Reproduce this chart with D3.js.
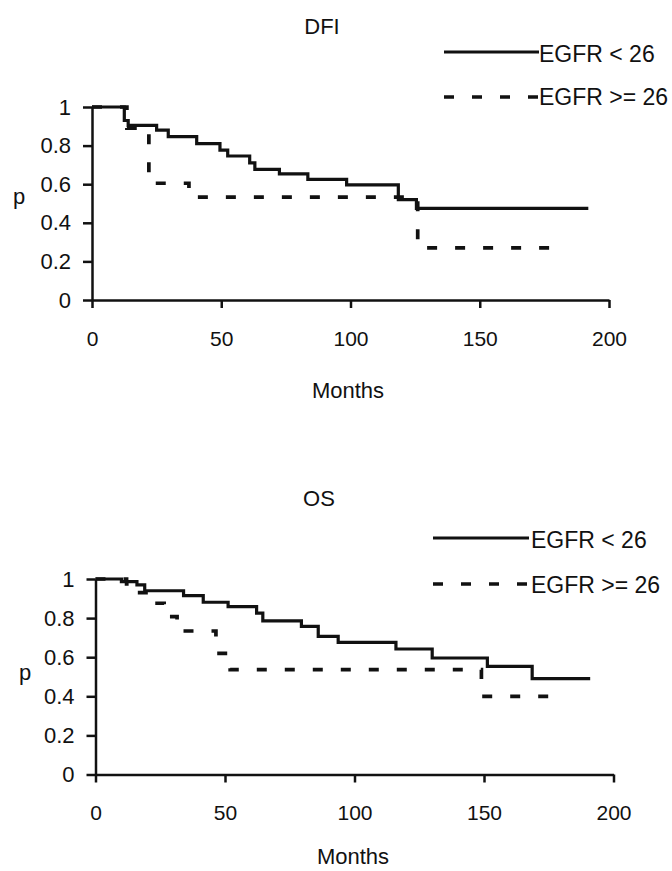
<!DOCTYPE html>
<html>
<head>
<meta charset="utf-8">
<script src="https://cdn.jsdelivr.net/npm/d3@7"></script>
<style>
  body { margin: 0; background: #fff; }
  text { font-family: "Liberation Sans", Arial, sans-serif; fill: #111; }
</style>
</head>
<body>
<div id="figure"></div>
<script>
const fig_width = 672,
      fig_height = 871,
      line_width = 3.2,
      dash_pattern = '10,18',
      tick_font = '21px',
      p_tick_font = '22px',
      label_font = '22px',
      legend_font = '23px'

const p_ticks = [0, 0.2, 0.4, 0.6, 0.8, 1]
const month_ticks = [0, 50, 100, 150, 200]
const series_names = ['EGFR < 26', 'EGFR >= 26']

// DFI, EGFR < 26 : months of each drop, survival after it, last follow-up
const dfi_low_months = [0, 12.5, 14, 25, 29.5, 40.5, 49.5, 52.5, 61, 63, 72.5, 83.5, 98.5, 118.5, 125.5]
const dfi_low_surv   = [1, 0.93, 0.905, 0.88, 0.846, 0.81, 0.777, 0.746, 0.71, 0.677, 0.653, 0.625, 0.596, 0.52, 0.475]
const dfi_low_end = 192

// DFI, EGFR >= 26
const dfi_high_months = [0, 13.5, 22, 37.5, 126]
const dfi_high_surv   = [1, 0.89, 0.605, 0.533, 0.27]
const dfi_high_end = 180

// OS, EGFR < 26
const os_low_months = [0, 10, 16, 19, 34, 41.6, 51.2, 62.2, 64.6, 79.5, 86, 93.7, 116, 130, 151.3, 168.6]
const os_low_surv   = [1, 0.987, 0.97, 0.94, 0.915, 0.881, 0.859, 0.825, 0.786, 0.758, 0.707, 0.676, 0.642, 0.596, 0.553, 0.49]
const os_low_end = 191

// OS, EGFR >= 26
const os_high_months = [0, 12, 16, 21, 26.5, 31.5, 46.5, 52, 149]
const os_high_surv   = [1, 0.975, 0.93, 0.876, 0.808, 0.734, 0.62, 0.536, 0.40]
const os_high_end = 180

function make_curve(months, surv, end_month) {
  let pts = months.map((m, i) => [m, surv[i]])
  pts.push([end_month, surv[surv.length - 1]])
  return pts
}

function draw_panel(svg, panel) {
  let x = d3.scaleLinear().domain([0, 200]).range([panel.left, panel.left + panel.width])
  let y = d3.scaleLinear().domain([0, 1]).range([panel.top + panel.height, panel.top])

  svg.append('text')
    .attr('x', panel.title_x)
    .attr('y', panel.title_y)
    .attr('text-anchor', 'middle')
    .style('font-size', label_font)
    .text(panel.title)

  let y_axis = svg.append('g')
    .attr('transform', `translate(${panel.left},0)`)
    .call(d3.axisLeft(y).tickValues(p_ticks).tickFormat(d => String(d))
      .tickSize(9).tickSizeOuter(0).tickPadding(12))
  let x_axis = svg.append('g')
    .attr('transform', `translate(0,${panel.top + panel.height})`)
    .call(d3.axisBottom(x).tickValues(month_ticks)
      .tickSize(8).tickSizeOuter(0).tickPadding(23))

  for (let ax of [y_axis, x_axis]) {
    ax.select('.domain').attr('stroke', '#111').attr('stroke-width', 2.5)
    ax.selectAll('.tick line').attr('stroke', '#111').attr('stroke-width', 2.5)
    ax.selectAll('.tick text')
      .style('font-size', ax === y_axis ? p_tick_font : tick_font)
      .style('font-family', '"Liberation Sans", Arial, sans-serif')
      .attr('fill', '#111')
  }

  svg.append('text')
    .attr('x', panel.p_x)
    .attr('y', panel.p_y)
    .attr('text-anchor', 'middle')
    .style('font-size', label_font)
    .text('p')

  svg.append('text')
    .attr('x', panel.months_x)
    .attr('y', panel.months_y)
    .attr('text-anchor', 'middle')
    .style('font-size', label_font)
    .text('Months')

  let step_line = d3.line()
    .x(d => x(d[0]))
    .y(d => y(d[1]))
    .curve(d3.curveStepAfter)

  svg.append('path')
    .attr('d', step_line(panel.high))
    .attr('fill', 'none')
    .attr('stroke', '#111')
    .attr('stroke-width', line_width + 0.5)
    .attr('stroke-dasharray', dash_pattern)

  svg.append('path')
    .attr('d', step_line(panel.low))
    .attr('fill', 'none')
    .attr('stroke', '#111')
    .attr('stroke-width', line_width)

  // legend
  let lg = panel.legend
  series_names.forEach((name, i) => {
    let ly = lg.y[i]
    svg.append('line')
      .attr('x1', lg.x1).attr('x2', lg.x2)
      .attr('y1', ly).attr('y2', ly)
      .attr('stroke', '#111')
      .attr('stroke-width', i == 0 ? line_width : line_width + 0.5)
      .attr('stroke-dasharray', i == 0 ? null : dash_pattern)
    svg.append('text')
      .attr('x', lg.text_x)
      .attr('y', lg.text_y[i])
      .style('font-size', legend_font)
      .text(name)
  })
}

function main() {
  let svg = d3.select('#figure')
    .append('svg')
    .attr('width', fig_width)
    .attr('height', fig_height)

  draw_panel(svg, {
    title: 'DFI', title_x: 322, title_y: 34,
    left: 92, top: 107, width: 517, height: 193,
    p_x: 19, p_y: 204,
    months_x: 348, months_y: 398,
    low: make_curve(dfi_low_months, dfi_low_surv, dfi_low_end),
    high: make_curve(dfi_high_months, dfi_high_surv, dfi_high_end),
    legend: { x1: 444, x2: 539, y: [52, 97], text_x: 539, text_y: [62, 105] }
  })

  draw_panel(svg, {
    title: 'OS', title_x: 319, title_y: 506,
    left: 95.5, top: 579, width: 518, height: 195.5,
    p_x: 25, p_y: 680,
    months_x: 353, months_y: 864,
    low: make_curve(os_low_months, os_low_surv, os_low_end),
    high: make_curve(os_high_months, os_high_surv, os_high_end),
    legend: { x1: 433, x2: 529, y: [538, 584], text_x: 531, text_y: [548, 593] }
  })
}

main()
</script>
</body>
</html>
